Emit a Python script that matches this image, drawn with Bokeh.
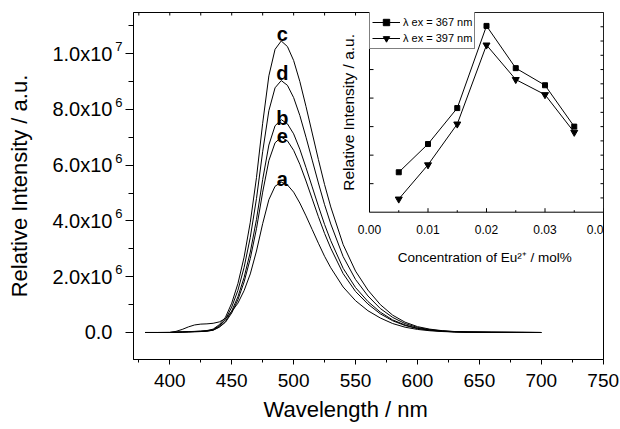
import math
from bokeh.plotting import figure
from bokeh.models import (Range1d, FixedTicker, LinearAxis, ColumnDataSource,
                          Legend, LegendItem, Title)
from bokeh.embed import file_html
from bokeh.resources import INLINE
from bokeh.core.properties import value

FONT = "Liberation Sans"

# ---------------- main spectra (intensity in units of 1e6) ----------------
wavelength = [380, 390, 400, 405, 410, 415, 420, 425, 430, 435, 440, 445, 450, 455, 460,
              465, 470, 475, 480, 485, 490, 495, 500, 505, 510, 515, 520, 525, 530, 540,
              550, 560, 570, 580, 590, 600, 610, 620, 630, 640, 660, 680, 700]

intensity_a = [0, 0, 0.005, 0.04, 0.11, 0.2, 0.27, 0.3, 0.31, 0.33, 0.38, 0.5, 0.75, 1.05, 1.5,
               2.1, 2.92, 3.9, 4.76, 5.24, 5.39, 5.29, 5.03, 4.64, 4.18, 3.69, 3.20, 2.73, 2.32, 1.63,
               1.14, 0.78, 0.52, 0.32, 0.19, 0.11, 0.062, 0.034, 0.018, 0.01, 0.005, 0.003, 0]
intensity_b = [0, 0, 0, 0.01, 0.015, 0.02, 0.03, 0.035, 0.05, 0.088, 0.204, 0.40, 0.77, 1.28, 1.97,
               2.88, 4.05, 5.48, 6.72, 7.41, 7.63, 7.48, 7.12, 6.57, 5.91, 5.22, 4.53, 3.87, 3.29, 2.30,
               1.61, 1.11, 0.73, 0.45, 0.27, 0.15, 0.088, 0.047, 0.026, 0.015, 0.007, 0.004, 0]
intensity_c = [0, 0, 0, 0.01, 0.02, 0.03, 0.04, 0.05, 0.07, 0.12, 0.28, 0.55, 1.05, 1.75, 2.7,
               3.95, 5.55, 7.5, 9.2, 10.15, 10.45, 10.25, 9.75, 9.0, 8.1, 7.15, 6.2, 5.3, 4.5, 3.15,
               2.2, 1.52, 1.0, 0.62, 0.37, 0.21, 0.12, 0.065, 0.035, 0.02, 0.01, 0.005, 0]
intensity_d = [0, 0, 0, 0.01, 0.02, 0.03, 0.035, 0.045, 0.06, 0.10, 0.24, 0.475, 0.91, 1.51, 2.33,
               3.41, 4.80, 6.48, 7.95, 8.77, 9.03, 8.86, 8.42, 7.78, 7.00, 6.18, 5.36, 4.58, 3.89, 2.72,
               1.90, 1.31, 0.86, 0.54, 0.32, 0.18, 0.10, 0.056, 0.03, 0.017, 0.009, 0.004, 0]
intensity_e = [0, 0, 0, 0.01, 0.013, 0.02, 0.027, 0.034, 0.047, 0.08, 0.19, 0.37, 0.70, 1.17, 1.81,
               2.65, 3.72, 5.03, 6.16, 6.80, 7.00, 6.87, 6.53, 6.03, 5.43, 4.79, 4.15, 3.55, 3.02, 2.11,
               1.47, 1.02, 0.67, 0.42, 0.25, 0.14, 0.08, 0.044, 0.023, 0.013, 0.007, 0.003, 0]
curve_labels = ["a", "b", "c", "d", "e"]

x_major = [400, 450, 500, 550, 600, 650, 700, 750]
x_minor = [375, 425, 475, 525, 575, 625, 675, 725]
y_major = [0, 2, 4, 6, 8, 10]
y_minor = [1, 3, 5, 7, 9, 11]
y_tick_text = ["0.0", "2.0x10", "4.0x10", "6.0x10", "8.0x10", "1.0x10"]
y_tick_exp = ["", "6", "6", "6", "6", "7"]

# ---------------- inset data ----------------
conc = [0.005, 0.010, 0.015, 0.020, 0.025, 0.030, 0.035]
int_367 = [1.40, 2.39, 3.65, 6.53, 5.05, 4.45, 3.00]
int_397 = [0.46, 1.66, 3.09, 5.86, 4.65, 4.12, 2.80]
inset_x_major = [0.00, 0.01, 0.02, 0.03, 0.04]
inset_x_minor = [0.005, 0.015, 0.025, 0.035]
inset_x_text = ["0.00", "0.01", "0.02", "0.03", "0.04"]
inset_y_major = [1, 2, 3, 4, 5, 6]
inset_y_right = [0.5, 1, 1.5, 2, 2.5, 3, 3.5, 4, 4.5, 5, 5.5, 6, 6.5]
inset_xlim = [0.0, 0.04]
inset_ylim = [0.0, 7.0]

# ---------------- geometry (pixels) ----------------
FL, FT, FW, FH = 133, 12, 470, 347          # main frame
X0, X1 = 370.69, 750.24
Y0, Y1 = -0.968, 11.47
SY = FH / (Y1 - Y0)
INSET_L, INSET_B = 369, 211.7               # inset frame left / bottom
IPX = (FL + FW - INSET_L) / (inset_xlim[1] - inset_xlim[0])
IPY = (INSET_B - FT) / (inset_ylim[1] - inset_ylim[0])
IX0 = inset_xlim[0] - (INSET_L - FL) / IPX
IX1 = inset_xlim[1]
IY1 = inset_ylim[1]
IY0 = inset_ylim[0] - (FT + FH - INSET_B) / IPY

p = figure(frame_width=FW, frame_height=FH,
           x_range=Range1d(X0, X1), y_range=Range1d(Y0, Y1),
           output_backend="svg", toolbar_location=None,
           min_border_left=FL, min_border_right=16, min_border_top=FT, min_border_bottom=70)
p.extra_x_ranges = {"ix": Range1d(IX0, IX1)}
p.extra_y_ranges = {"iy": Range1d(IY0, IY1)}
p.grid.visible = False
p.outline_line_color = "black"
p.outline_line_width = 1
p.outline_line_alpha = 1
p.background_fill_color = "white"
p.border_fill_color = "white"

# bottom axis
xa = p.xaxis[0]
xa.ticker = FixedTicker(ticks=x_major, minor_ticks=x_minor)
xa.major_label_text_font = FONT
xa.major_label_text_font_size = "19px"
xa.major_label_text_color = "black"
xa.major_label_standoff = 9
xa.major_tick_out = 5
xa.major_tick_in = 0
xa.minor_tick_out = 3
xa.minor_tick_in = 0
xa.axis_line_color = "black"
xa.major_tick_line_color = "black"
xa.minor_tick_line_color = "black"
p.add_layout(Title(text="Wavelength / nm", align="left", offset=130, standoff=10,
                   vertical_align="bottom",
                   text_font=FONT, text_font_size="22px", text_font_style="normal",
                   text_color="black"), "below")

# left axis: ticks only
ya = p.yaxis[0]
ya.ticker = FixedTicker(ticks=y_major, minor_ticks=y_minor)
ya.major_label_overrides = {t: "" for t in y_major}
ya.major_label_standoff = 0
ya.major_tick_out = 8
ya.major_tick_in = 0
ya.minor_tick_out = 5
ya.minor_tick_in = 0
ya.axis_line_color = "black"
ya.major_tick_line_color = "black"
ya.minor_tick_line_color = "black"

# exponent labels (raised a little above each major tick)
exp_ticks = [t + 0.25 for t, e in zip(y_major, y_tick_exp) if e]
exp_text = [e for e in y_tick_exp if e]
exp_axis = LinearAxis(ticker=FixedTicker(ticks=exp_ticks, minor_ticks=[]),
                      major_label_overrides=dict(zip(exp_ticks, exp_text)),
                      major_label_text_font=FONT, major_label_text_font_size="13px",
                      major_label_text_color="black", major_label_standoff=3,
                      major_tick_in=0, major_tick_out=0,
                      axis_line_color=None, major_tick_line_color=None,
                      minor_tick_line_color=None)
p.add_layout(exp_axis, "left")

# mantissa labels + axis title
base_axis = LinearAxis(ticker=FixedTicker(ticks=y_major, minor_ticks=[]),
                       major_label_overrides=dict(zip(y_major, y_tick_text)),
                       major_label_text_font=FONT, major_label_text_font_size="20px",
                       major_label_text_color="black", major_label_standoff=0,
                       major_tick_in=0, major_tick_out=0,
                       axis_line_color=None, major_tick_line_color=None,
                       minor_tick_line_color=None,
                       axis_label="Relative Intensity / a.u.", axis_label_standoff=17,
                       axis_label_text_font=FONT, axis_label_text_font_size="22px",
                       axis_label_text_font_style="normal", axis_label_text_color="black")
p.add_layout(base_axis, "left")

# top frame ticks (inward)
top_ticks = x_major + x_minor
p.segment(x0=top_ticks, y0=[Y1] * len(top_ticks), x1=top_ticks,
          y1=[Y1 - 3 / SY] * len(top_ticks), line_color="black", line_width=1)

# spectra
series = [intensity_a, intensity_b, intensity_c, intensity_d, intensity_e]
for s in series:
    p.line(wavelength, s, line_color="black", line_width=1)

peak_x = [wavelength[s.index(max(s))] for s in series]
peak_y = [max(s) for s in series]
label_dy = [-3, -2, -7, -8, -1]
src = ColumnDataSource(dict(x=peak_x, y=peak_y, t=curve_labels, dy=label_dy))
p.text(x="x", y="y", text="t", y_offset="dy", x_offset=1, source=src,
       text_font=value(FONT), text_font_style="bold", text_font_size="20px",
       text_align="center", text_baseline="alphabetic", text_color="black")

# ================= inset (drawn on extra ranges) =================
R = dict(x_range_name="ix", y_range_name="iy")
p.quad(left=[inset_xlim[0]], right=[inset_xlim[1]], bottom=[inset_ylim[0]], top=[inset_ylim[1]],
       fill_color="white", line_color="black", line_width=1, **R)

p.segment(x0=inset_x_major, y0=[inset_ylim[0]] * 5, x1=inset_x_major,
          y1=[inset_ylim[0] + 4 / IPY] * 5, line_color="black", **R)
p.segment(x0=inset_x_minor, y0=[inset_ylim[0]] * 4, x1=inset_x_minor,
          y1=[inset_ylim[0] + 2 / IPY] * 4, line_color="black", **R)
p.segment(x0=[inset_xlim[0]] * len(inset_y_major), y0=inset_y_major,
          x1=[inset_xlim[0] + 4 / IPX] * len(inset_y_major), y1=inset_y_major,
          line_color="black", **R)
p.segment(x0=[inset_xlim[1]] * len(inset_y_right), y0=inset_y_right,
          x1=[inset_xlim[1] - 3 / IPX] * len(inset_y_right), y1=inset_y_right,
          line_color="black", **R)

p.text(x=inset_x_major, y=[inset_ylim[0]] * 5, text=inset_x_text, y_offset=17.6,
       x_offset=[0, 0, 0, 0, -5],
       text_font=value(FONT), text_font_size="12px", text_color="black",
       text_align="center", text_baseline="middle", **R)
p.text(x=[0.0197], y=[inset_ylim[0]], text=["Concentration of Eu\u00b2\u207a / mol%"],
       y_offset=45.6, text_font=value(FONT), text_font_size="13.5px", text_color="black",
       text_align="center", text_baseline="middle", **R)
p.text(x=[inset_xlim[0]], y=[3.5], text=["Relative Intensity / a.u."], x_offset=-21.5,
       angle=math.pi / 2, text_font=value(FONT), text_font_size="15.5px", text_color="black",
       text_align="center", text_baseline="middle", **R)

l1 = p.line(conc, int_367, line_color="black", line_width=1, **R)
s1 = p.scatter(conc, int_367, marker="square", size=5, color="black", **R)
l2 = p.line(conc, int_397, line_color="black", line_width=1, **R)
s2 = p.scatter(conc, int_397, marker="inverted_triangle", size=7, color="black", **R)

legend = Legend(items=[LegendItem(label="\u03bb ex = 367 nm", renderers=[l1, s1]),
                       LegendItem(label="\u03bb ex = 397 nm", renderers=[l2, s2])],
                location=(INSET_L - FL, FH - 37), margin=0, padding=2, spacing=0,
                label_text_font=FONT, label_text_font_size="11px", label_text_color="black",
                glyph_width=28, glyph_height=16, label_height=16, label_standoff=3,
                border_line_color="black", border_line_width=1,
                background_fill_color="white", background_fill_alpha=1)
p.add_layout(legend)

open("out.html", "w").write(file_html(p, INLINE))
